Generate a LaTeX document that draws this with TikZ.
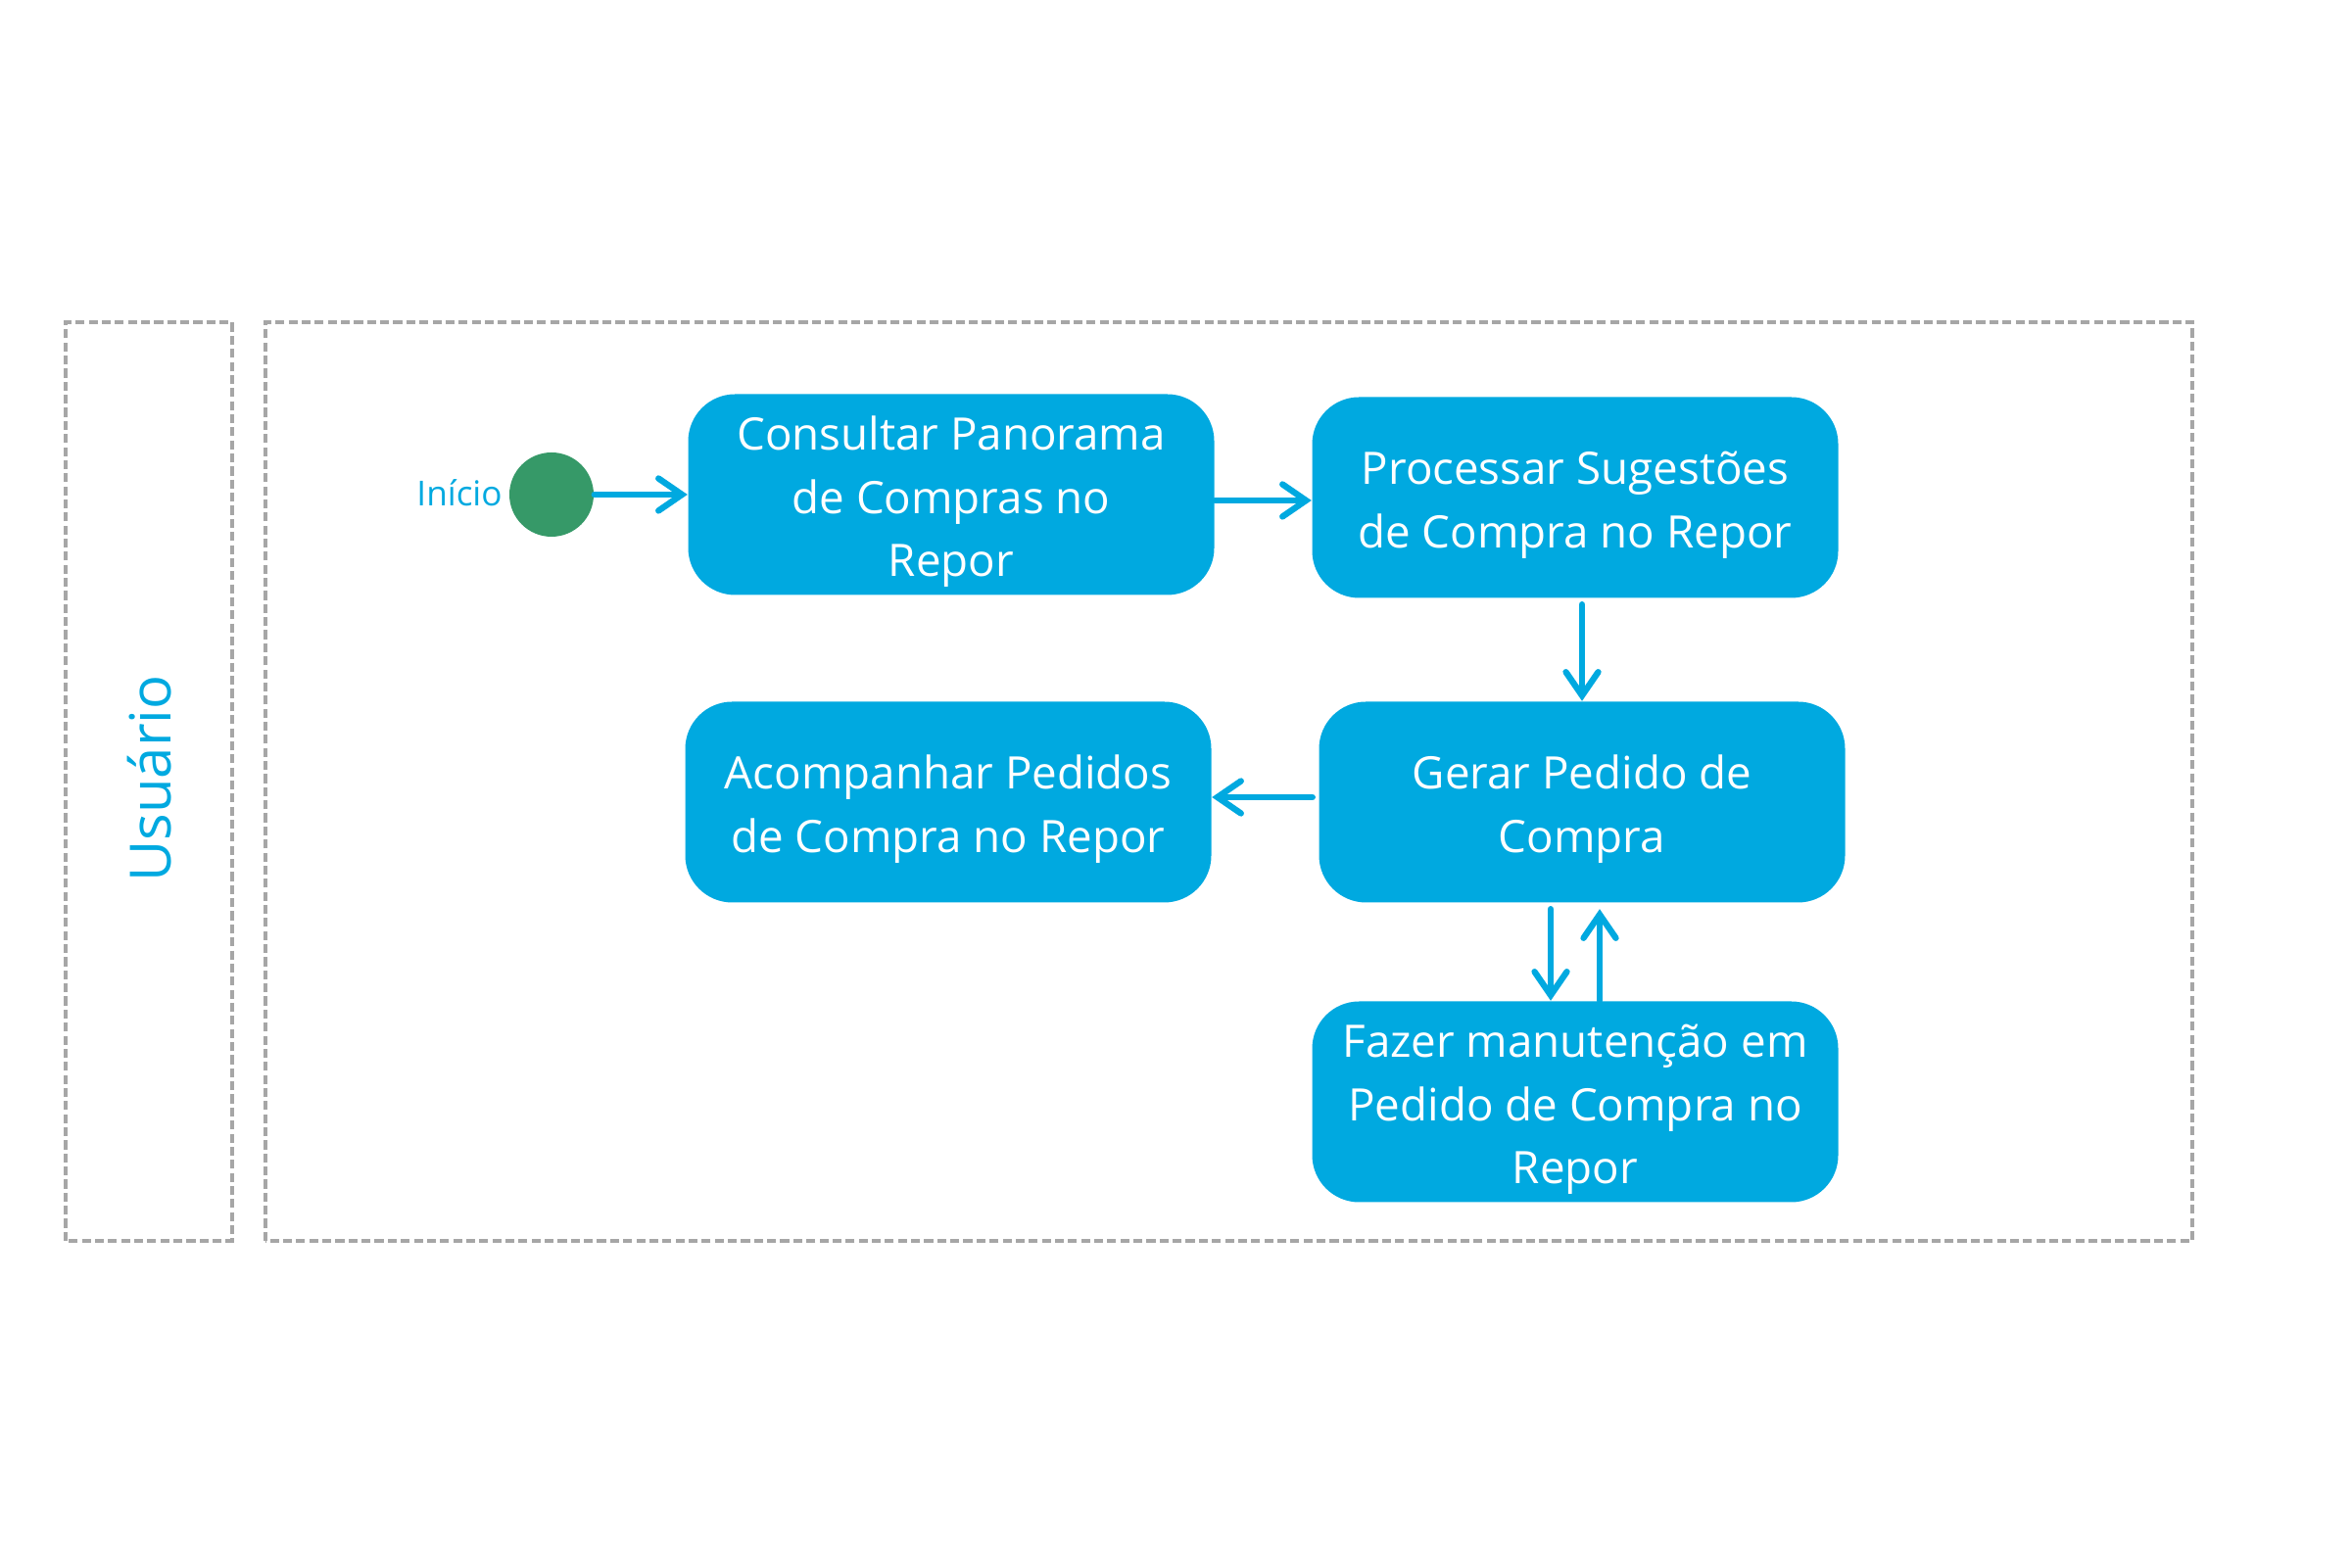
\documentclass[tikz,border=0pt]{standalone}
\usepackage{fontspec}
\setmainfont{Open Sans}
\usetikzlibrary{arrows.meta,positioning,calc}
\definecolor{rpBlue}{HTML}{00A9E0}
\definecolor{rpGreen}{HTML}{369968}
\definecolor{rpGrey}{HTML}{A6A6A6}
\newcommand{\actstrut}{\rule{0pt}{14pt}}
\tikzset{
  lane/.style     ={draw=rpGrey,line width=0.95pt,dash pattern=on 2.6pt off 1.2pt},
  act/.style      ={fill=rpBlue,text=white,rounded corners=4.8mm,minimum width=53.7mm,
                    minimum height=20.5mm,align=center,inner sep=2pt,
                    font=\fontsize{13}{18.4}\selectfont},
  startdot/.style ={circle,fill=rpGreen,minimum size=8.6mm,inner sep=0pt},
  flow/.style     ={-{Straight Barb[length=2.4mm,width=3.3mm,line cap=round]},rpBlue,
                    line width=1.8pt,line cap=round},
  lbl/.style      ={font=\fontsize{10}{12}\selectfont,text=rpBlue},
}
\begin{document}
\begin{tikzpicture}
\useasboundingbox (0,0) rectangle (24,16);
% swimlane
\draw[lane] (0.67,3.33) rectangle (2.37,12.71);
\draw[lane] (2.71,3.33) rectangle (22.38,12.71);
\node[rotate=90,text=rpBlue,font=\fontsize{16.5}{20}\selectfont] (user) at (1.53,8.05) {Usuário};

% activities
\node[startdot] (start) at (5.63,10.95) {};
\node[lbl,anchor=east] (startlbl) at (5.25,10.97) {Início};
\node[act] (consult) at (9.71,10.95) {\actstrut Consultar Panorama\\de Compras no\\Repor};
\node[act] (process) at (16.08,10.92) {\actstrut Processar Sugestões\\de Compra no Repor};
\node[act] (gerar)   at (16.15,7.81)  {\actstrut Gerar Pedido de\\Compra};
\node[act] (follow)  at (9.68,7.81)   {\actstrut Acompanhar Pedidos\\de Compra no Repor};
\node[act] (maint)   at (16.08,4.75)  {\actstrut Fazer manutenção em\\Pedido de Compra no\\Repor};

% connectors
\draw[flow] (start.east) -- (consult.west);
\draw[flow] ([yshift=-0.6mm]consult.east) -- ([yshift=-0.6mm]consult.east -| process.west);
\draw[flow] ([yshift=-0.6mm]gerar.north |- process.south) -- (gerar.north);
\draw[flow] ([xshift=-0.6mm,yshift=0.5mm]gerar.west) -- ([yshift=0.5mm]gerar.west -| follow.east);
\draw[flow] ([xshift=-2.5mm,yshift=-0.6mm]maint.north |- gerar.south) -- ([xshift=-2.5mm]maint.north);
\draw[flow] ([xshift=2.5mm]maint.north) -- ([xshift=2.5mm,yshift=-0.6mm]maint.north |- gerar.south);
\end{tikzpicture}
\end{document}
